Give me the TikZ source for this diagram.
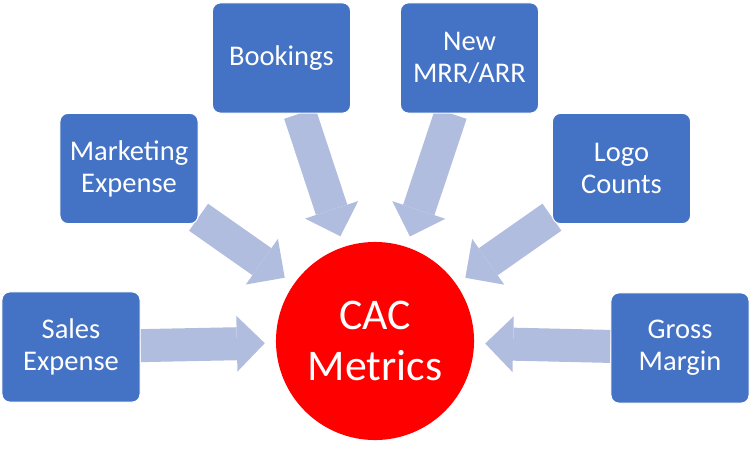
\documentclass[tikz,border=0pt]{standalone}
\usepackage{fontspec}
\setmainfont{Carlito}
\usetikzlibrary{arrows.meta,backgrounds}
\definecolor{boxblue}{HTML}{4472C4}
\definecolor{arrowblue}{HTML}{B0BDDF}
\definecolor{cacred}{HTML}{FF0000}

\begin{document}
\begin{tikzpicture}[x=0.0265cm,y=-0.0265cm,
    inbox/.style={draw=white,line width=0.8pt,fill=boxblue,text=white,rounded corners=6pt,
      minimum width=3.66cm,minimum height=2.92cm,align=center,inner sep=0pt,
      font=\fontsize{21.5}{24}\selectfont},
    fatarrow/.style={arrowblue,line width=0.875cm,shorten >=0.29cm,
      -{Triangle[length=0.74cm,width=1.48cm,line width=0pt]}}]
  \useasboundingbox (0,0) rectangle (751,450);
  \node[circle,fill=cacred,minimum size=5.25cm,inner sep=0pt,text=white,align=center,
    font=\fontsize{33}{38}\selectfont] (cac) at (375,341) {CAC\\Metrics};
  \node[inbox] (sales) at (71,347) {Sales\\Expense};
  \node[inbox] (mkt) at (129,168.5) {Marketing\\Expense};
  \node[inbox] (book) at (281.5,58) {Bookings};
  \node[inbox] (mrr) at (469.5,58) {New\\MRR/ARR};
  \node[inbox] (logo) at (621.5,168.5) {Logo\\Counts};
  \node[inbox] (gross) at (680,348) {Gross\\Margin};
  \begin{scope}[on background layer]
    \foreach \src in {sales,mkt,book,mrr,logo,gross}
      \draw[fatarrow] (\src) -- (cac);
  \end{scope}
\end{tikzpicture}
\end{document}
